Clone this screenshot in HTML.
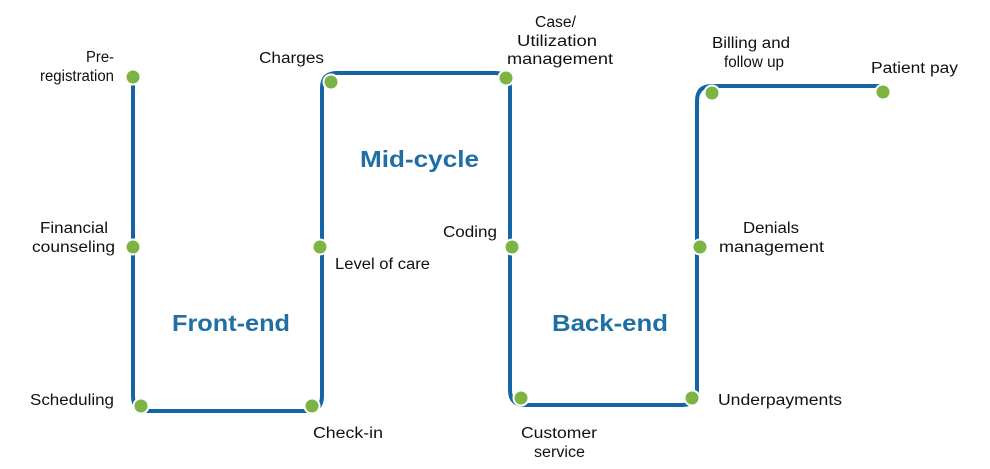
<!DOCTYPE html>
<html><head><style>body{margin:0;background:#fff}svg{display:block}</style></head><body>
<svg width="990" height="469" xmlns="http://www.w3.org/2000/svg" font-family="Liberation Sans, sans-serif">
<path d="M133 77 V396 Q133 411 148 411 H307 Q322 411 322 396 V88 Q322 73 337 73 H495 Q510 73 510 88 V390 Q510 405 525 405 H682 Q697 405 697 390 V101 Q697 86 712 86 H883" fill="none" stroke="#1565a5" stroke-width="4"/>
<g fill="#7cb342" stroke="#fff" stroke-width="2">
<circle cx="133" cy="77" r="7.5"/><circle cx="133" cy="247" r="7.5"/><circle cx="141" cy="406" r="7.5"/>
<circle cx="312" cy="406" r="7.5"/><circle cx="320" cy="247" r="7.5"/><circle cx="331" cy="82" r="7.5"/>
<circle cx="506" cy="78" r="7.5"/><circle cx="512" cy="247" r="7.5"/><circle cx="521" cy="398" r="7.5"/>
<circle cx="692" cy="398" r="7.5"/><circle cx="700" cy="247" r="7.5"/><circle cx="712" cy="93" r="7.5"/>
<circle cx="883" cy="92" r="7.5"/></g>
<g font-size="15.5" fill="#111">
<text x="86" y="62" textLength="28" lengthAdjust="spacingAndGlyphs">Pre-</text><text x="40" y="81" textLength="74" lengthAdjust="spacingAndGlyphs">registration</text>
<text x="40" y="233" textLength="68" lengthAdjust="spacingAndGlyphs">Financial</text><text x="32" y="252" textLength="83" lengthAdjust="spacingAndGlyphs">counseling</text>
<text x="30" y="405" textLength="84" lengthAdjust="spacingAndGlyphs">Scheduling</text>
<text x="313" y="438" textLength="70" lengthAdjust="spacingAndGlyphs">Check-in</text>
<text x="335" y="269" textLength="95" lengthAdjust="spacingAndGlyphs">Level of care</text>
<text x="259" y="63" textLength="65" lengthAdjust="spacingAndGlyphs">Charges</text>
<text x="535" y="27" textLength="41" lengthAdjust="spacingAndGlyphs">Case/</text><text x="517" y="46" textLength="80" lengthAdjust="spacingAndGlyphs">Utilization</text><text x="507" y="64" textLength="106" lengthAdjust="spacingAndGlyphs">management</text>
<text x="443" y="237" textLength="54" lengthAdjust="spacingAndGlyphs">Coding</text>
<text x="521" y="438" textLength="76" lengthAdjust="spacingAndGlyphs">Customer</text><text x="534" y="457" textLength="51" lengthAdjust="spacingAndGlyphs">service</text>
<text x="718" y="405" textLength="124" lengthAdjust="spacingAndGlyphs">Underpayments</text>
<text x="743" y="233" textLength="56" lengthAdjust="spacingAndGlyphs">Denials</text><text x="719" y="252" textLength="105" lengthAdjust="spacingAndGlyphs">management</text>
<text x="712" y="48" textLength="78" lengthAdjust="spacingAndGlyphs">Billing and</text><text x="724" y="67" textLength="60" lengthAdjust="spacingAndGlyphs">follow up</text>
<text x="871" y="73" textLength="87" lengthAdjust="spacingAndGlyphs">Patient pay</text>
</g>
<g font-size="23" fill="#1f6fa6" font-weight="bold">
<text x="172" y="331" textLength="118" lengthAdjust="spacingAndGlyphs">Front-end</text>
<text x="360" y="167" textLength="119" lengthAdjust="spacingAndGlyphs">Mid-cycle</text>
<text x="552" y="331" textLength="116" lengthAdjust="spacingAndGlyphs">Back-end</text>
</g>
</svg>
</body></html>
